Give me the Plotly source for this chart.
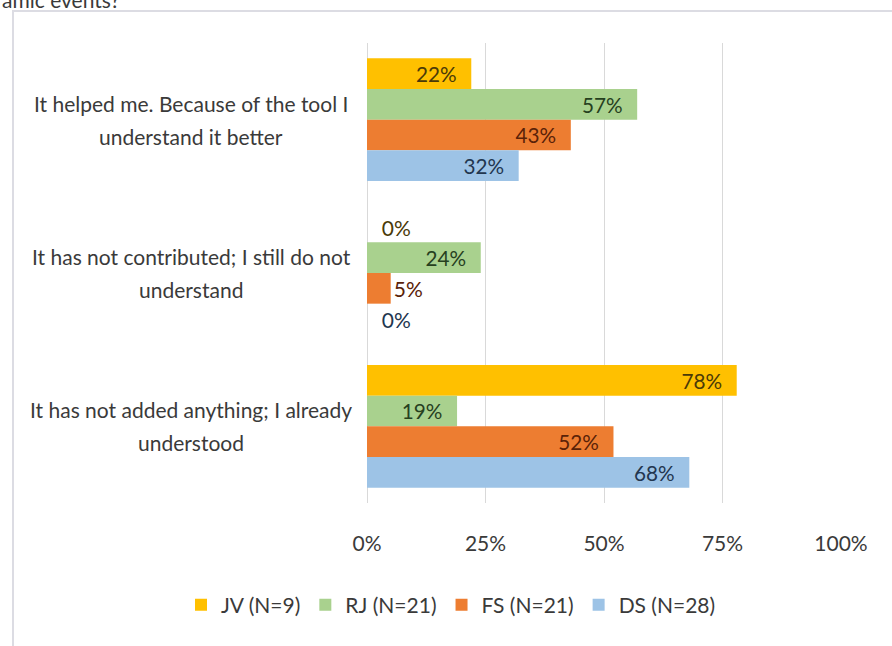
import plotly.graph_objects as go

# Survey answers (top to bottom) and the share of each group choosing them
categories = [
    "It helped me. Because of the tool I<br>understand it better",
    "It has not contributed; I still do not<br>understand",
    "It has not added anything; I already<br>understood",
]
series_names = ["JV (N=9)", "RJ (N=21)", "FS (N=21)", "DS (N=28)"]
jv_values = [0.22, 0.00, 0.78]
rj_values = [0.57, 0.24, 0.19]
fs_values = [0.43, 0.05, 0.52]
ds_values = [0.32, 0.00, 0.68]
tick_values = [0, 0.25, 0.5, 0.75, 1.0]
heading_fragment = "amic events?"

series_values = [jv_values, rj_values, fs_values, ds_values]
bar_colors = ["#FFC000", "#A9D18E", "#ED7D31", "#9DC3E6"]
label_colors = ["#4a3a08", "#26401e", "#5a2208", "#22364f"]

FONT = "Lato, Liberation Sans, sans-serif"
FS = 21
TEXT_GREY = "#3a3a3a"

# Plot area in pixels
W, H = 892, 646
ML, MR, MT, MB = 367, 51, 43, 143
PW, PH = W - ML - MR, H - MT - MB


def px_x(px):
    return (px - ML) / PW


def px_y(py):
    return (H - MB - py) / PH


fig = go.Figure()
for name, vals, color, lcolor in zip(series_names, series_values, bar_colors, label_colors):
    positions = ["inside" if v >= 0.1 else "outside" for v in vals]
    templates = [
        "%{x:.0%}\u2002\u200a" if v >= 0.1
        else ("\u2002\u200a%{x:.0%}" if v == 0 else "%{x:.0%}")
        for v in vals
    ]
    fig.add_trace(go.Bar(
        y=categories,
        x=vals,
        name=name,
        orientation="h",
        marker=dict(color=color, line=dict(width=0)),
        texttemplate=templates,
        textposition=positions,
        insidetextanchor="end",
        cliponaxis=False,
        textfont=dict(family=FONT, size=FS, color=lcolor),
        hoverinfo="skip",
    ))

# Category labels, centred, one annotation per line
annotations = []
for cat in categories:
    lines = cat.split("<br>")
    n = len(lines)
    for i, line in enumerate(lines):
        annotations.append(dict(
            text=line, xref="paper", yref="y", x=px_x(191), y=cat,
            xanchor="center", yanchor="middle", showarrow=False,
            yshift=(n - 1) / 2 * 33 - i * 33,
            font=dict(family=FONT, size=FS, color=TEXT_GREY),
        ))

annotations.append(dict(
    text=heading_fragment, xref="paper", yref="paper",
    x=px_x(0), y=px_y(14), xanchor="left", yanchor="bottom",
    showarrow=False, font=dict(family=FONT, size=FS, color=TEXT_GREY),
))

fig.update_layout(
    width=W, height=H,
    margin=dict(l=ML, r=MR, t=MT, b=MB, autoexpand=False),
    paper_bgcolor="white", plot_bgcolor="white",
    barmode="group", bargap=0.2, bargroupgap=0,
    font=dict(family=FONT, size=FS, color=TEXT_GREY),
    showlegend=True,
    legend=dict(
        orientation="h", xref="paper", yref="paper",
        x=px_x(181), y=px_y(605), xanchor="left", yanchor="middle",
        font=dict(family=FONT, size=FS, color=TEXT_GREY),
        traceorder="normal", itemwidth=30,
    ),
    annotations=annotations,
    shapes=[dict(
        type="rect", xref="paper", yref="paper",
        x0=px_x(13), x1=px_x(W + 20), y0=px_y(H + 20), y1=px_y(11),
        line=dict(color="#dcdce3", width=2), fillcolor="rgba(0,0,0,0)",
        layer="below",
    )],
)

fig.update_xaxes(
    range=[0, 1], tickvals=tick_values, tickformat=".0%",
    showgrid=True, gridcolor="#d9d9d9", gridwidth=1,
    zeroline=True, zerolinecolor="#d9d9d9", zerolinewidth=1,
    showline=False, ticks="", ticklabelstandoff=26,
    tickfont=dict(family=FONT, size=FS, color=TEXT_GREY),
    fixedrange=True,
)
fig.update_yaxes(
    autorange="reversed", showticklabels=False, showgrid=False,
    zeroline=False, showline=False, ticks="", fixedrange=True,
)

fig.write_html("out.html")
